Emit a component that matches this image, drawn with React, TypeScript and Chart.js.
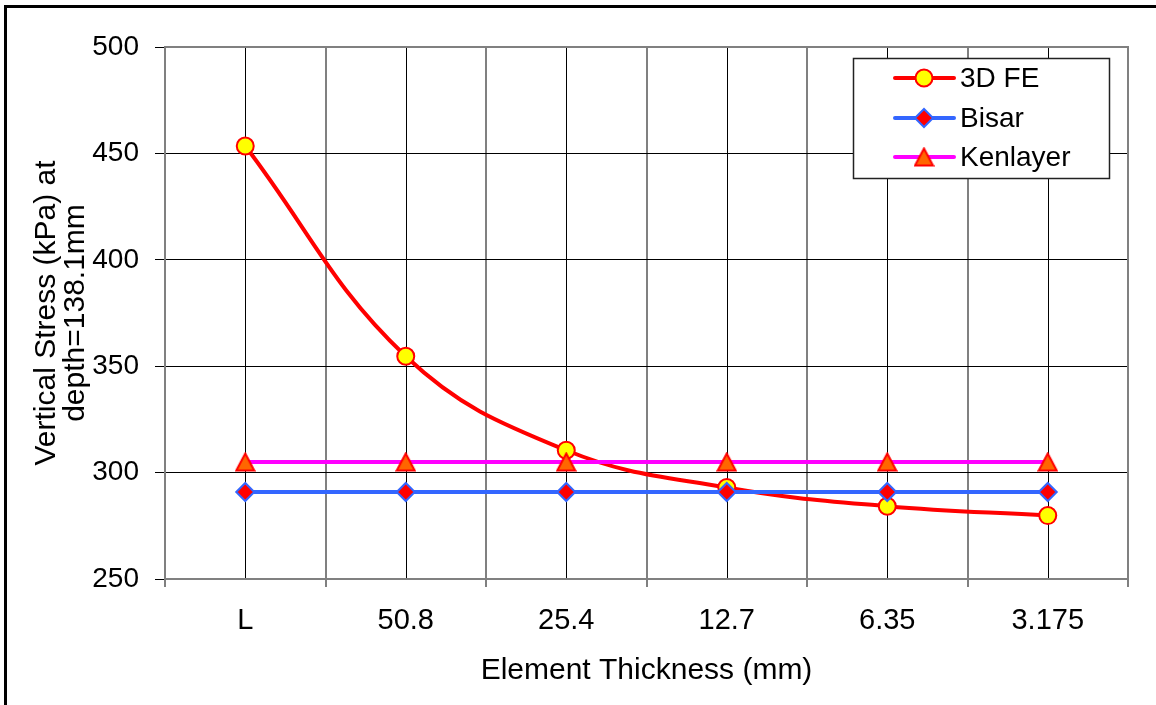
import React, { useEffect, useRef } from "react";
import { Chart, registerables } from "chart.js";

Chart.register(...registerables);

// Element thickness categories (mm); "L" is the layered reference case
const categories = ["L", "50.8", "25.4", "12.7", "6.35", "3.175"];

// Vertical stress (kPa) at depth = 138.1 mm
const feStress = [453.5, 354.7, 310.5, 293.0, 284.2, 279.8];
const bisarStress = [290.9, 290.9, 290.9, 290.9, 290.9, 290.9];
const kenlayerStress = [305.0, 305.0, 305.0, 305.0, 305.0, 305.0];

const seriesNames = ["3D FE", "Bisar", "Kenlayer"];

const yMin = 250;
const yMax = 500;
const yStep = 50;

const xTitle = "Element Thickness (mm)";
const yTitle = ["Vertical Stress (kPa) at", "depth=138.1mm"];

const FONT = "'Liberation Sans', Arial, sans-serif";

function makeTriangle(): HTMLCanvasElement {
  const c = document.createElement("canvas");
  const w = 21;
  const h = 20;
  c.width = w;
  c.height = h;
  const ctx = c.getContext("2d")!;
  ctx.beginPath();
  ctx.moveTo(w / 2, 1.5);
  ctx.lineTo(w - 1.5, h - 1.5);
  ctx.lineTo(1.5, h - 1.5);
  ctx.closePath();
  ctx.fillStyle = "#FF6600";
  ctx.fill();
  ctx.lineWidth = 2;
  ctx.lineJoin = "miter";
  ctx.strokeStyle = "#FF0000";
  ctx.stroke();
  return c;
}

export default function App() {
  const canvasRef = useRef<HTMLCanvasElement | null>(null);

  useEffect(() => {
    const canvas = canvasRef.current;
    if (!canvas) return;
    const triangle = makeTriangle();

    // frame, centre gridlines, plot border, axis titles and the in-plot legend
    const decorations = {
      id: "decorations",
      beforeDraw(chart: any) {
        const { ctx } = chart;
        ctx.save();
        ctx.fillStyle = "#ffffff";
        ctx.fillRect(0, 0, chart.width, chart.height);
        ctx.fillStyle = "#000000";
        ctx.fillRect(4, 5, chart.width - 4, 3);
        ctx.fillRect(4, 5, 3, chart.height - 5);
        ctx.restore();
      },
      beforeDatasetsDraw(chart: any) {
        const { ctx, chartArea } = chart;
        const xs = chart.scales.x;
        ctx.save();
        ctx.strokeStyle = "#000000";
        ctx.lineWidth = 1;
        categories.forEach((_, i) => {
          const px = Math.round(xs.getPixelForValue(i)) + 0.5;
          ctx.beginPath();
          ctx.moveTo(px, chartArea.top);
          ctx.lineTo(px, chartArea.bottom);
          ctx.stroke();
        });
        ctx.strokeStyle = "#808080";
        ctx.lineWidth = 2;
        ctx.strokeRect(chartArea.left, chartArea.top, chartArea.right - chartArea.left, chartArea.bottom - chartArea.top);
        ctx.restore();
      },
      afterDraw(chart: any) {
        const { ctx, chartArea } = chart;
        ctx.save();
        ctx.fillStyle = "#000000";
        // x axis title
        ctx.font = `30px ${FONT}`;
        ctx.textAlign = "center";
        ctx.textBaseline = "middle";
        ctx.fillText(xTitle, (chartArea.left + chartArea.right) / 2, 671);
        // y axis title, two rotated lines
        const cy = (chartArea.top + chartArea.bottom) / 2;
        ctx.textBaseline = "alphabetic";
        [55, 84].forEach((x, i) => {
          ctx.save();
          ctx.translate(x, cy);
          ctx.rotate(-Math.PI / 2);
          ctx.fillText(yTitle[i], 0, 0);
          ctx.restore();
        });

        // legend box
        const lx = 853;
        const ly = 58;
        const lw = 256;
        const lh = 120;
        ctx.fillStyle = "#ffffff";
        ctx.fillRect(lx, ly, lw, lh);
        ctx.strokeStyle = "#222222";
        ctx.lineWidth = 1.5;
        ctx.strokeRect(lx + 0.5, ly + 0.5, lw, lh);
        const rows = [78, 118, 157];
        chart.data.datasets.forEach((ds: any, i: number) => {
          const y = rows[i];
          ctx.strokeStyle = ds.borderColor;
          ctx.lineWidth = 4;
          ctx.lineCap = "round";
          ctx.beginPath();
          ctx.moveTo(895, y);
          ctx.lineTo(954, y);
          ctx.stroke();
          const mx = 924;
          if (ds.pointStyle === "circle") {
            ctx.beginPath();
            ctx.arc(mx, y, ds.pointRadius, 0, Math.PI * 2);
            ctx.fillStyle = ds.pointBackgroundColor;
            ctx.fill();
            ctx.lineWidth = ds.pointBorderWidth;
            ctx.strokeStyle = ds.pointBorderColor;
            ctx.stroke();
          } else if (ds.pointStyle === "rectRot") {
            const r = ds.pointRadius;
            ctx.beginPath();
            ctx.moveTo(mx - r, y);
            ctx.lineTo(mx, y - r);
            ctx.lineTo(mx + r, y);
            ctx.lineTo(mx, y + r);
            ctx.closePath();
            ctx.fillStyle = ds.pointBackgroundColor;
            ctx.fill();
            ctx.lineWidth = ds.pointBorderWidth;
            ctx.strokeStyle = ds.pointBorderColor;
            ctx.stroke();
          } else {
            ctx.drawImage(triangle, mx - triangle.width / 2, y - triangle.height / 2);
          }
          ctx.fillStyle = "#000000";
          ctx.font = `28px ${FONT}`;
          ctx.textAlign = "left";
          ctx.textBaseline = "middle";
          ctx.fillText(ds.label, 960, y + 1);
        });
        ctx.restore();
      },
    };

    const chart = new Chart(canvas, {
      type: "line",
      data: {
        labels: categories,
        datasets: [
          {
            label: seriesNames[0],
            data: feStress,
            borderColor: "#FF0000",
            borderWidth: 4,
            tension: 0.4,
            pointStyle: "circle",
            pointRadius: 8.5,
            pointBackgroundColor: "#FFFF00",
            pointBorderColor: "#FF0000",
            pointBorderWidth: 2,
            order: 3,
          },
          {
            label: seriesNames[1],
            data: bisarStress,
            borderColor: "#3366FF",
            borderWidth: 4,
            tension: 0,
            pointStyle: "rectRot",
            pointRadius: 9,
            pointBackgroundColor: "#FF0000",
            pointBorderColor: "#3366FF",
            pointBorderWidth: 2,
            order: 2,
          },
          {
            label: seriesNames[2],
            data: kenlayerStress,
            borderColor: "#FF00FF",
            borderWidth: 4,
            tension: 0,
            pointStyle: triangle as any,
            pointRadius: 10,
            pointBackgroundColor: "#FF6600",
            pointBorderColor: "#FF0000",
            pointBorderWidth: 2,
            order: 1,
          },
        ],
      },
      options: {
        responsive: false,
        animation: false,
        events: [],
        layout: { padding: { left: 0, right: 28, top: 47, bottom: 0 } },
        plugins: {
          legend: { display: false },
          tooltip: { enabled: false },
          title: { display: false },
        },
        scales: {
          x: {
            type: "category",
            offset: true,
            afterFit(scale: any) {
              scale.height = 126;
            },
            grid: {
              offset: true,
              color: "#808080",
              lineWidth: 2,
              tickLength: 8,
              drawTicks: true,
            },
            border: { display: true, color: "#808080", width: 2 },
            ticks: {
              color: "#000000",
              padding: 17,
              maxRotation: 0,
              autoSkip: false,
              font: { family: FONT, size: 29 },
            },
          },
          y: {
            min: yMin,
            max: yMax,
            afterFit(scale: any) {
              scale.width = 165;
            },
            grid: {
              color: "#000000",
              lineWidth: 1,
              tickLength: 10,
              drawTicks: true,
            },
            border: { display: true, color: "#808080", width: 2 },
            ticks: {
              stepSize: yStep,
              color: "#000000",
              padding: 16,
              font: { family: FONT, size: 28 },
            },
          },
        },
      },
      plugins: [decorations],
    });

    return () => chart.destroy();
  }, []);

  return (
    <div style={{ position: "fixed", left: 0, top: 0, width: 1156, height: 705, background: "#fff" }}>
      <canvas ref={canvasRef} width={1156} height={705} style={{ display: "block" }} />
    </div>
  );
}
